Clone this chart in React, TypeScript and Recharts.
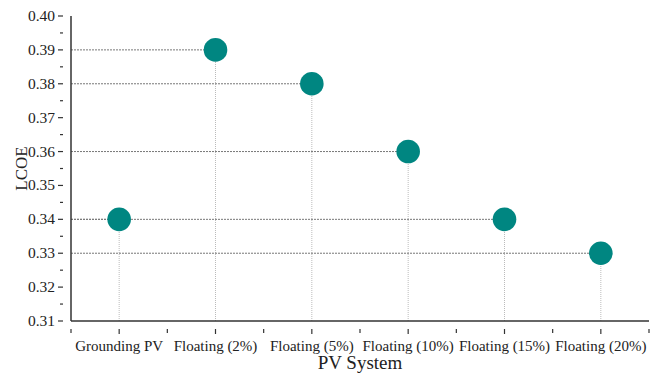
import React from 'react';
import { ComposedChart, Scatter, XAxis, YAxis, ReferenceLine, Label } from 'recharts';

const categories = ['Grounding PV', 'Floating (2%)', 'Floating (5%)', 'Floating (10%)', 'Floating (15%)', 'Floating (20%)'];
const lcoe = [0.34, 0.39, 0.38, 0.36, 0.34, 0.33];
const yTickLabels = [0.31, 0.32, 0.33, 0.34, 0.35, 0.36, 0.37, 0.38, 0.39, 0.40];

const data = categories.map((c, i) => ({ idx: i, name: c, value: lcoe[i] }));

const yMin = yTickLabels[0];
const yMax = yTickLabels[yTickLabels.length - 1];
const yTicks: number[] = [];
yTickLabels.forEach((t, i) => {
  yTicks.push(t);
  if (i < yTickLabels.length - 1) yTicks.push(Math.round((t + 0.005) * 1000) / 1000);
});
const xTicks: number[] = [];
for (let i = -1; i < categories.length; i++) {
  if (i >= 0) xTicks.push(i);
  xTicks.push(i + 0.5);
}

const FONT = '"Liberation Serif", "Times New Roman", serif';

const XTick = (props: any) => {
  const { x, y, payload } = props;
  const v = payload.value;
  const major = Number.isInteger(v);
  return (
    <g>
      <line x1={x} x2={x} y1={y} y2={y + (major ? 5 : 4)} stroke="#333" strokeWidth={1.2} />
      {major && (
        <text x={x} y={y + 22} textAnchor="middle" fontFamily={FONT} fontSize={15} fill="#222">
          {categories[v]}
        </text>
      )}
    </g>
  );
};

const YTick = (props: any) => {
  const { x, y, payload } = props;
  const v = payload.value;
  const major = Math.round(v * 1000) % 10 === 0;
  return (
    <g>
      <line x1={x} x2={x - (major ? 5 : 3)} y1={y} y2={y} stroke="#333" strokeWidth={1.2} />
      {major && (
        <text x={x - 8} y={y + 5} textAnchor="end" fontFamily={FONT} fontSize={15.5} fill="#222">
          {v.toFixed(2)}
        </text>
      )}
    </g>
  );
};

const Dot = (props: any) => {
  const { cx, cy } = props;
  return <circle cx={cx} cy={cy} r={11.8} fill="#008681" />;
};

export default function App() {
  return (
    <div style={{ position: 'absolute', left: 0, top: 0, background: '#fff' }}>
      <ComposedChart width={656} height={374} data={data} margin={{ top: 16, right: 7, bottom: 0, left: 0 }}>
        <XAxis
          type="number"
          dataKey="idx"
          domain={[-0.5, categories.length - 0.5]}
          ticks={xTicks}
          interval={0}
          tick={<XTick />}
          tickLine={false}
          axisLine={{ stroke: '#333', strokeWidth: 1.5 }}
          height={53}
          allowDataOverflow
        >
          <Label
            content={({ viewBox }: any) => (
              <text
                x={viewBox.x + viewBox.width / 2}
                y={369}
                textAnchor="middle"
                fontFamily={FONT}
                fontSize={19}
                fill="#222"
              >
                PV System
              </text>
            )}
          />
        </XAxis>
        <YAxis
          type="number"
          dataKey="value"
          domain={[yMin, yMax]}
          ticks={yTicks}
          interval={0}
          tick={<YTick />}
          tickLine={false}
          axisLine={{ stroke: '#333', strokeWidth: 1.5 }}
          width={71}
          allowDataOverflow
        >
          <Label
            content={({ viewBox }: any) => {
              const cx = 27;
              const cy = viewBox.y + viewBox.height / 2;
              return (
                <text
                  x={cx}
                  y={cy}
                  transform={`rotate(-90, ${cx}, ${cy})`}
                  textAnchor="middle"
                  fontFamily={FONT}
                  fontSize={17}
                  fill="#222"
                >
                  LCOE
                </text>
              );
            }}
          />
        </YAxis>
        {data.map((d) => (
          <ReferenceLine
            key={'v' + d.idx}
            segment={[{ x: d.idx, y: yMin }, { x: d.idx, y: d.value }]}
            stroke="#bbb"
            strokeDasharray="1 1"
            strokeWidth={1}
          />
        ))}
        {data.map((d) => (
          <ReferenceLine
            key={'h' + d.idx}
            segment={[{ x: -0.5, y: d.value }, { x: d.idx, y: d.value }]}
            stroke="#777"
            strokeDasharray="2 1"
            strokeWidth={1}
          />
        ))}
        <Scatter dataKey="value" shape={<Dot />} isAnimationActive={false} />
      </ComposedChart>
    </div>
  );
}
